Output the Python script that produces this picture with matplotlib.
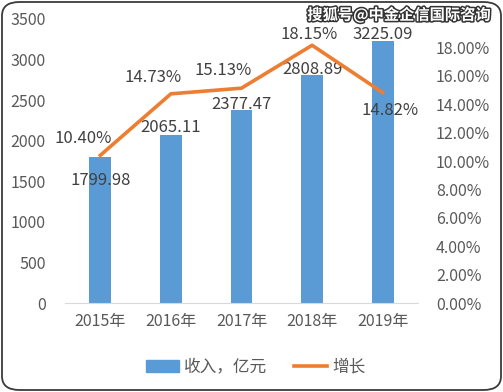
import matplotlib
matplotlib.use("Agg")
import matplotlib.pyplot as plt
import matplotlib.patheffects as pe
from matplotlib.patches import FancyBboxPatch
from matplotlib.lines import Line2D
from matplotlib.patches import Patch

plt.rcParams['font.family'] = ['Noto Sans CJK SC', 'DejaVu Sans']

years = ["2015年", "2016年", "2017年", "2018年", "2019年"]
revenue = [1799.98, 2065.11, 2377.47, 2808.89, 3225.09]
growth = [10.40, 14.73, 15.13, 18.15, 14.82]
rev_labels = ["1799.98", "2065.11", "2377.47", "2808.89", "3225.09"]
growth_labels = ["10.40%", "14.73%", "15.13%", "18.15%", "14.82%"]

blue = "#5B9BD5"
orange = "#ED7D31"
tick_c = "#595959"
lab_c = "#404040"

W, H = 503, 392
fig = plt.figure(figsize=(W/100, H/100), dpi=100)
ax = fig.add_axes([65/W, 1-303/H, 353/W, 284/H])
ax2 = ax.twinx()

x = list(range(len(years)))
ax.bar(x, revenue, width=0.31, color=blue, zorder=2)
ax.set_ylim(0, 3500)
ax.set_xlim(-0.5, 4.5)
ax.set_yticks(range(0, 3501, 500))
ax.set_xticks(x)
ax.set_xticklabels(years)
for s in ["top", "left", "right"]:
    ax.spines[s].set_visible(False)
ax.spines["bottom"].set_color("#D9D9D9")
ax.tick_params(axis="both", length=0, colors=tick_c, labelsize=11.5)
ax.tick_params(axis="y", pad=14)
ax.tick_params(axis="x", pad=7)

ax2.plot(x, growth, color=orange, lw=2.6, zorder=3)
ax2.set_ylim(0, 20)
ax2.set_yticks([i*2 for i in range(10)])
ax2.set_yticklabels([f"{i*2:.2f}%" for i in range(10)])
for s in ["top", "left", "right", "bottom"]:
    ax2.spines[s].set_visible(False)
ax2.tick_params(axis="y", length=0, colors=tick_c, labelsize=11.5, pad=13)

# revenue labels
rev_off = [-17, 6, 4, 4, 5]
for i, (v, t) in enumerate(zip(revenue, rev_labels)):
    ax.annotate(t, (i, v), xytext=(0, rev_off[i]), textcoords="offset points",
                ha="center", va="center", color=lab_c, fontsize=12, zorder=5)

# growth labels
g_off = [(-12, 12), (-13, 12), (-13, 13), (-2, 8), (5, -13)]
for i, (v, t) in enumerate(zip(growth, growth_labels)):
    dx, dy = g_off[i]
    ax2.annotate(t, (i, v), xytext=(dx, dy), textcoords="offset points",
                 ha="center", va="center", color=lab_c, fontsize=12, zorder=5)

handles = [Patch(color=blue, label="收入，亿元"),
           Line2D([0], [0], color=orange, lw=2.6, label="增长")]
fig.legend(handles=handles, loc="center", bbox_to_anchor=(0.508, 1-367/H), ncol=2,
           frameon=False, fontsize=12, labelcolor=tick_c, handlelength=2.0,
           handleheight=0.7, columnspacing=1.6, handletextpad=0.3)

# watermark
fig.text(0.975, 1-15/H, "搜狐号@中金企信国际咨询", ha="right", va="center",
         color="white", fontsize=11, fontweight="bold",
         path_effects=[pe.withStroke(linewidth=2.2, foreground="#333333")], zorder=10)

# rounded frame
frame = FancyBboxPatch((2/W, 2/H), 1-4/W, 1-4/H, boxstyle="round,pad=0,rounding_size=0.035",
                       transform=fig.transFigure, fill=False, edgecolor="#3A3A3A", lw=1.3)
fig.patches.append(frame)

fig.savefig("out.png", dpi=100)
